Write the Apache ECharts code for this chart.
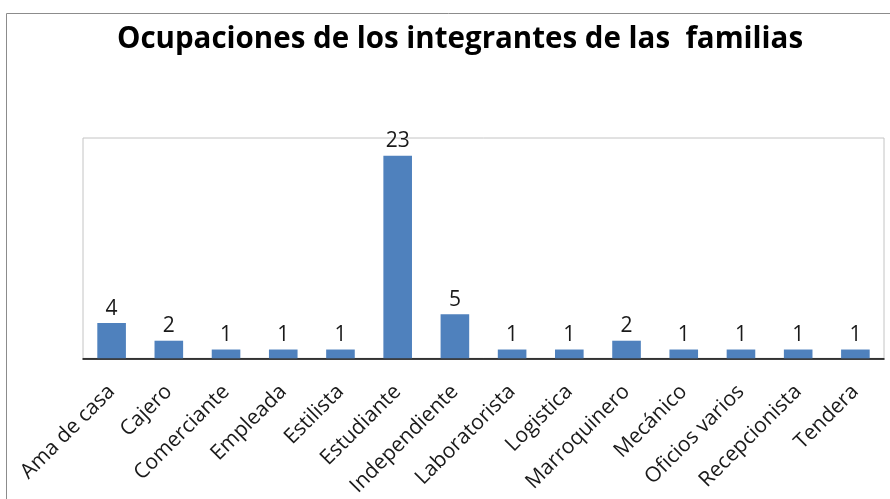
<!DOCTYPE html>
<html>
<head>
<meta charset="utf-8">
<script src="https://cdn.jsdelivr.net/npm/echarts@6/dist/echarts.min.js"></script>
<style>
  html, body { margin: 0; padding: 0; background: #fff; }
  #chart { width: 890px; height: 499px; }
</style>
</head>
<body>
<div id="chart"></div>
<script>
// datos de la gráfica
const titulo = 'Ocupaciones de los integrantes de las  familias'
const ocupaciones = [
  'Ama de casa', 'Cajero', 'Comerciante', 'Empleada', 'Estilista',
  'Estudiante', 'Independiente', 'Laboratorista', 'Logistica',
  'Marroquinero', 'Mecánico', 'Oficios varios', 'Recepcionista', 'Tendera'
]
const cantidades = [4, 2, 1, 1, 1, 23, 5, 1, 1, 2, 1, 1, 1, 1]

const fuente = '"Open Sans", sans-serif'

const chart = echarts.init(document.getElementById('chart'))

chart.setOption({
  animation: false,
  title: {
    text: titulo,
    left: 455,
    textAlign: 'center',
    top: 20,
    textStyle: {
      fontFamily: fuente,
      fontSize: 29.5,
      fontWeight: 'bold',
      color: '#000'
    }
  },
  // marco exterior del gráfico
  graphic: [{
    type: 'rect',
    shape: { x: 6.5, y: 13.5, width: 900, height: 500 },
    style: { fill: 'none', stroke: '#8c8c8c', lineWidth: 1 },
    silent: true,
    z: -1
  }],
  grid: {
    left: 83,
    right: 6,
    top: 138,
    bottom: 140,
    show: true,
    borderColor: '#c4c4c4',
    borderWidth: 1
  },
  xAxis: {
    type: 'category',
    data: ocupaciones,
    axisLine: { lineStyle: { color: '#000', width: 1.5 } },
    axisTick: { show: false },
    axisLabel: {
      rotate: 45,
      interval: 0,
      margin: 30,
      fontFamily: fuente,
      fontSize: 21,
      color: '#1a1a1a'
    }
  },
  yAxis: {
    type: 'value',
    min: 0,
    max: 25,
    show: false
  },
  series: [{
    type: 'bar',
    data: cantidades,
    barWidth: '50%',
    itemStyle: { color: '#4f81bd' },
    label: {
      show: true,
      position: 'top',
      distance: 4,
      fontFamily: fuente,
      fontSize: 21,
      color: '#1a1a1a'
    }
  }]
})
</script>
</body>
</html>
